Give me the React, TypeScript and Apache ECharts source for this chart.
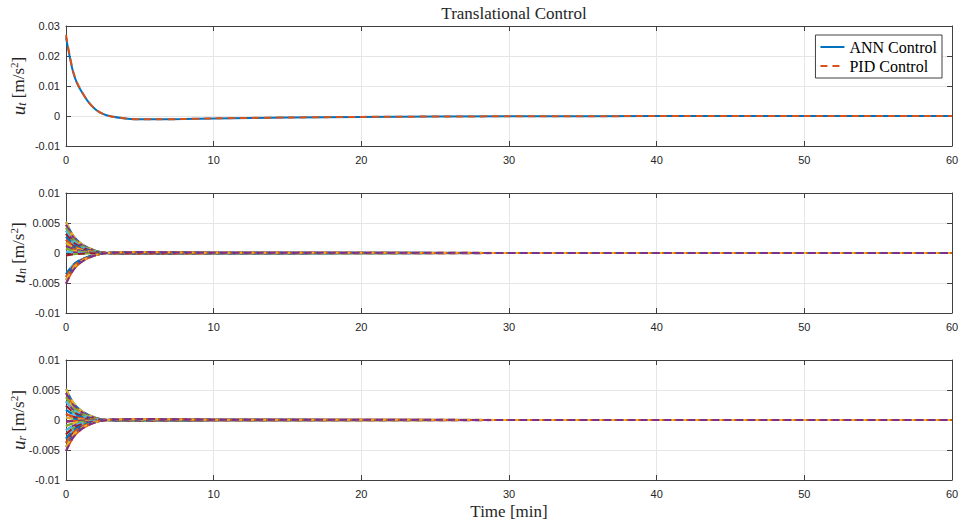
import React, { useEffect, useRef } from "react";
import * as echarts from "echarts";

// ---- Data ----
const TIME_T = [0, 0.25, 0.5, 0.75, 1, 1.5, 2, 2.5, 3, 4, 5, 6, 8, 10, 15, 20, 30, 40, 50, 60];
const ANN_UT = [0.0262, 0.0198, 0.0143, 0.0109, 0.0086, 0.0048, 0.0022, 0.0007, -0.0001, -0.0008, -0.0011, -0.0011, -0.001, -0.0008, -0.0005, -0.0003, -0.0001, -0.00003, 0, 0];
const PID_UT = [0.0270, 0.0202, 0.0146, 0.0111, 0.0087, 0.0048, 0.0022, 0.0007, -0.0001, -0.0008, -0.0011, -0.0011, -0.001, -0.0008, -0.0005, -0.0003, -0.0001, -0.00003, 0, 0];

const TIME_NR = [0, 0.5, 1, 1.5, 2, 2.5, 3, 5, 10, 60];
const UN_CURVES = [
  [0.0052, 0.00286, 0.00161, 0.00088, 0.00039, 0.0001, -0.00005, -0.00016, -0.00005, 0],
  [0.0047, 0.00259, 0.00146, 0.0008, 0.00035, 0.00009, -0.00005, -0.00014, -0.00005, 0],
  [0.0042, 0.00231, 0.0013, 0.00071, 0.00032, 0.00008, -0.00004, -0.00013, -0.00004, 0],
  [0.0037, 0.00204, 0.00115, 0.00063, 0.00028, 0.00007, -0.00004, -0.00011, -0.00004, 0],
  [0.0032, 0.00176, 0.00099, 0.00054, 0.00024, 0.00006, -0.00003, -0.0001, -0.00003, 0],
  [0.0027, 0.00149, 0.00084, 0.00046, 0.0002, 0.00005, -0.00003, -0.00008, -0.00003, 0],
  [0.0022, 0.00121, 0.00068, 0.00037, 0.00017, 0.00004, -0.00002, -0.00007, -0.00002, 0],
  [0.0017, 0.00094, 0.00053, 0.00029, 0.00013, 0.00003, -0.00002, -0.00005, -0.00002, 0],
  [0.0012, 0.00066, 0.00037, 0.0002, 0.00009, 0.00002, -0.00001, -0.00004, -0.00001, 0],
  [0.0007, 0.00039, 0.00022, 0.00012, 0.00005, 0.00001, -0.00001, -0.00002, -0.00001, 0],
  [0.0002, 0.00011, 0.00006, 0.00003, 0.00002, 0, 0, -0.00001, 0, 0],
  [-0.0004, -0.00022, -0.00012, -0.00007, -0.00003, -0.00001, 0, 0.00001, 0, 0],
  [-0.0035, -0.00193, -0.00109, -0.0006, -0.00026, -0.00007, 0.00004, 0.00011, 0.00004, 0],
  [-0.004, -0.0022, -0.00124, -0.00068, -0.0003, -0.00008, 0.00004, 0.00012, 0.00004, 0],
  [-0.0045, -0.00248, -0.0014, -0.00077, -0.00034, -0.00009, 0.00005, 0.00014, 0.00005, 0],
  [-0.0051, -0.00281, -0.00158, -0.00087, -0.00038, -0.0001, 0.00005, 0.00015, 0.00005, 0],
];
const UR_CURVES = [
  [0.0052, 0.00286, 0.00161, 0.00088, 0.00039, 0.0001, -0.00005, -0.00016, -0.00005, 0],
  [0.0045, 0.00248, 0.0014, 0.00077, 0.00034, 0.00009, -0.00005, -0.00014, -0.00005, 0],
  [0.0038, 0.00209, 0.00118, 0.00065, 0.00029, 0.00008, -0.00004, -0.00011, -0.00004, 0],
  [0.0031, 0.00171, 0.00096, 0.00053, 0.00023, 0.00006, -0.00003, -0.00009, -0.00003, 0],
  [0.0024, 0.00132, 0.00074, 0.00041, 0.00018, 0.00005, -0.00002, -0.00007, -0.00002, 0],
  [0.0017, 0.00094, 0.00053, 0.00029, 0.00013, 0.00003, -0.00002, -0.00005, -0.00002, 0],
  [0.001, 0.00055, 0.00031, 0.00017, 0.00008, 0.00002, -0.00001, -0.00003, -0.00001, 0],
  [0.0004, 0.00022, 0.00012, 0.00007, 0.00003, 0.00001, 0, -0.00001, 0, 0],
  [-0.0003, -0.00017, -0.00009, -0.00005, -0.00002, -0.00001, 0, 0.00001, 0, 0],
  [-0.001, -0.00055, -0.00031, -0.00017, -0.00008, -0.00002, 0.00001, 0.00003, 0.00001, 0],
  [-0.0017, -0.00094, -0.00053, -0.00029, -0.00013, -0.00003, 0.00002, 0.00005, 0.00002, 0],
  [-0.0024, -0.00132, -0.00074, -0.00041, -0.00018, -0.00005, 0.00002, 0.00007, 0.00002, 0],
  [-0.0031, -0.00171, -0.00096, -0.00053, -0.00023, -0.00006, 0.00003, 0.00009, 0.00003, 0],
  [-0.0038, -0.00209, -0.00118, -0.00065, -0.00029, -0.00008, 0.00004, 0.00011, 0.00004, 0],
  [-0.0045, -0.00248, -0.0014, -0.00077, -0.00034, -0.00009, 0.00005, 0.00014, 0.00005, 0],
  [-0.0052, -0.00286, -0.00161, -0.00088, -0.00039, -0.0001, 0.00005, 0.00016, 0.00005, 0],
];
const X_TICKS = { min: 0, max: 60, interval: 10 };
const Y_RANGE_T = { min: -0.01, max: 0.03, interval: 0.01 };
const Y_RANGE_NR = { min: -0.01, max: 0.01, interval: 0.005 };
const PALETTE = ["#0072BD", "#D95319", "#EDB120", "#7E2F8E", "#77AC30", "#4DBEEE", "#A2142F"];

const AXIS_COLOR = "#404040";
const TEXT_COLOR = "#262626";
const SERIF = "'Liberation Serif', 'DejaVu Serif', serif";
const SANS = "'Liberation Sans', Arial, sans-serif";

const zip = (xs: number[], ys: number[]) => xs.map((x, i) => [x, ys[i]]);

export default function App() {
  const ref = useRef<HTMLDivElement>(null);
  useEffect(() => {
    if (!ref.current) return;
    const chart = echarts.init(ref.current, undefined, { renderer: "svg" });

    const grids = [
      { left: 66, right: 9, top: 26, height: 120, containLabel: false, outerBoundsMode: "none" },
      { left: 66, right: 9, top: 193, height: 120, containLabel: false, outerBoundsMode: "none" },
      { left: 66, right: 9, top: 360, height: 120, containLabel: false, outerBoundsMode: "none" },
    ];
    const yRanges = [Y_RANGE_T, Y_RANGE_NR, Y_RANGE_NR];
    const yNames = [
      "{i|u}{s|t} [m/s{p|2}]",
      "{i|u}{s|n} [m/s{p|2}]",
      "{i|u}{s|r} [m/s{p|2}]",
    ];
    const fmt = (v: number) => String(+v.toFixed(4));

    const xAxes: any[] = [];
    const yAxes: any[] = [];
    grids.forEach((_, g) => {
      xAxes.push({
        gridIndex: g,
        type: "value",
        ...X_TICKS,
        position: "bottom",
        axisLine: { show: true, onZero: false, lineStyle: { color: AXIS_COLOR } },
        axisTick: { show: true, inside: true, length: 5, lineStyle: { color: AXIS_COLOR } },
        axisLabel: { color: TEXT_COLOR, fontSize: 11, fontFamily: SANS, margin: 8 },
        splitLine: { show: true, lineStyle: { color: "#e6e6e6" } },
        name: g === 2 ? "Time [min]" : "",
        nameLocation: "middle",
        nameGap: 23,
        nameMoveOverlap: false,
        nameTextStyle: { fontFamily: SERIF, fontSize: 17, color: TEXT_COLOR },
      });
      xAxes.push({
        gridIndex: g,
        type: "value",
        ...X_TICKS,
        position: "top",
        axisLine: { show: true, onZero: false, lineStyle: { color: AXIS_COLOR } },
        axisTick: { show: true, inside: true, length: 5, lineStyle: { color: AXIS_COLOR } },
        axisLabel: { show: false },
        splitLine: { show: false },
      });
      yAxes.push({
        gridIndex: g,
        type: "value",
        ...yRanges[g],
        position: "left",
        axisLine: { show: true, onZero: false, lineStyle: { color: AXIS_COLOR } },
        axisTick: { show: true, inside: true, length: 5, lineStyle: { color: AXIS_COLOR } },
        axisLabel: { color: TEXT_COLOR, fontSize: 11, fontFamily: SANS, margin: 6, formatter: fmt },
        splitLine: { show: true, lineStyle: { color: "#e6e6e6" } },
        name: yNames[g],
        nameLocation: "middle",
        nameGap: 38,
        nameRotate: 90,
        nameMoveOverlap: false,
        nameTextStyle: {
          fontFamily: SERIF,
          fontSize: 17,
          color: TEXT_COLOR,
          rich: {
            i: { fontFamily: SERIF, fontStyle: "italic", fontSize: 19, color: TEXT_COLOR },
            s: { fontFamily: SERIF, fontStyle: "italic", fontSize: 12, color: TEXT_COLOR, padding: [8, 0, 0, 0] },
            p: { fontFamily: SERIF, fontSize: 11, color: TEXT_COLOR, padding: [0, 0, 8, 0] },
          },
        },
      });
      yAxes.push({
        gridIndex: g,
        type: "value",
        ...yRanges[g],
        position: "right",
        axisLine: { show: true, onZero: false, lineStyle: { color: AXIS_COLOR } },
        axisTick: { show: true, inside: true, length: 5, lineStyle: { color: AXIS_COLOR } },
        axisLabel: { show: false },
        splitLine: { show: false },
      });
    });

    const series: any[] = [];
    series.push({
      name: "ANN Control",
      type: "line",
      xAxisIndex: 0,
      yAxisIndex: 0,
      symbol: "none",
      showSymbol: false,
      smooth: 0.3,
      data: zip(TIME_T, ANN_UT),
      lineStyle: { color: PALETTE[0], width: 2, type: "solid" },
      itemStyle: { color: PALETTE[0] },
    });
    series.push({
      name: "PID Control",
      type: "line",
      xAxisIndex: 0,
      yAxisIndex: 0,
      symbol: "none",
      showSymbol: false,
      smooth: 0.3,
      data: zip(TIME_T, PID_UT),
      lineStyle: { color: PALETTE[1], width: 2, type: [7, 5] },
      itemStyle: { color: PALETTE[1] },
    });

    const addPanel = (curves: number[][], g: number, tag: string) => {
      const n = curves.length;
      curves.forEach((c, k) => {
        const col = PALETTE[k % PALETTE.length];
        series.push({
          name: `${tag}-ANN-${k}`,
          type: "line",
          xAxisIndex: 2 * g,
          yAxisIndex: 2 * g,
          symbol: "none",
          smooth: 0.3,
          data: zip(TIME_NR, c),
          lineStyle: { color: col, width: 2, type: "solid" },
          itemStyle: { color: col },
        });
      });
      curves.forEach((c, k) => {
        const col = PALETTE[(n + k) % PALETTE.length];
        series.push({
          name: `${tag}-PID-${k}`,
          type: "line",
          xAxisIndex: 2 * g,
          yAxisIndex: 2 * g,
          symbol: "none",
          smooth: 0.3,
          data: zip(TIME_NR, c),
          lineStyle: { color: col, width: 2, type: [7, 5] },
          itemStyle: { color: col },
        });
      });
    };
    addPanel(UN_CURVES, 1, "un");
    addPanel(UR_CURVES, 2, "ur");

    chart.setOption({
      animation: false,
      backgroundColor: "#ffffff",
      title: {
        text: "Translational Control",
        left: 509,
        top: 0,
        textAlign: "center",
        textStyle: { fontFamily: SERIF, fontSize: 17, fontWeight: "normal", color: TEXT_COLOR },
      },
      legend: {
        data: ["ANN Control", "PID Control"],
        orient: "vertical",
        right: 19,
        top: 35,
        backgroundColor: "#ffffff",
        borderColor: AXIS_COLOR,
        borderWidth: 1,
        borderRadius: 0,
        padding: [4, 5, 4, 4],
        itemGap: 3,
        itemWidth: 24,
        itemHeight: 16,
        selectedMode: false,
        itemStyle: { opacity: 0 },
        textStyle: { fontFamily: SERIF, fontSize: 16, color: "#000000" },
      },
      grid: grids,
      xAxis: xAxes,
      yAxis: yAxes,
      series,
    });
    return () => chart.dispose();
  }, []);

  return (
    <div
      ref={ref}
      style={{ position: "fixed", left: 0, top: 0, width: 961, height: 523, background: "#fff" }}
    />
  );
}
